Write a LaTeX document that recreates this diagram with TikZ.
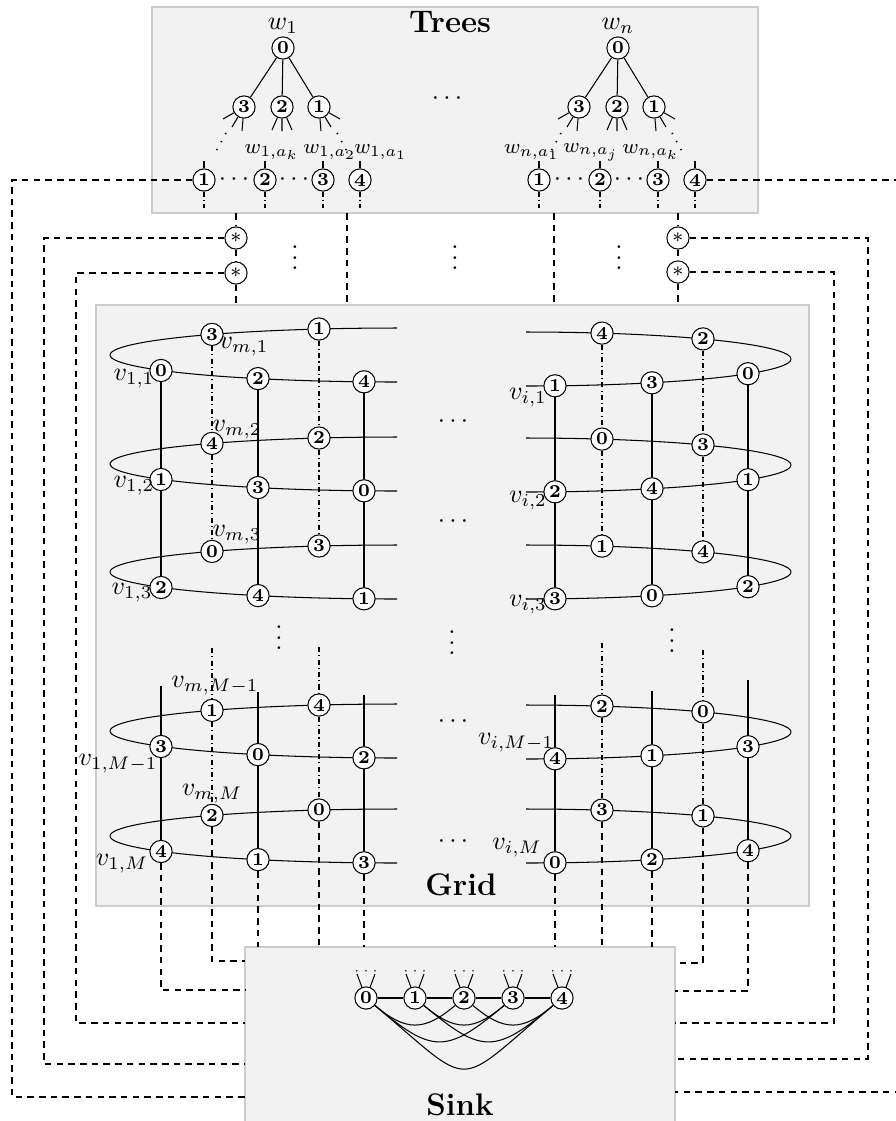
\documentclass[tikz,border=0pt]{standalone}
\usetikzlibrary{positioning}

\begin{document}
\begin{tikzpicture}[
    x=0.0135cm, y=-0.0135cm,
    every node/.style={inner sep=1pt},
    vtx/.style={circle, draw, fill=white, inner sep=0pt, minimum size=3mm,
                font=\scriptsize\bfseries},
    box/.style={draw=gray!40, fill=gray!10},
    lnk/.style={dash pattern=on 2.5pt off 2pt},
    col/.style={dash pattern=on 2pt off 1.2pt on 0.4pt off 1.2pt},
    dts/.style={dash pattern=on 0.5pt off 3pt, line width=0.6pt},
    ttl/.style={font=\fontsize{12}{14}\selectfont\bfseries},
    lbl/.style={font=\normalsize},
    sub/.style={font=\footnotesize},
  ]
  \useasboundingbox (0,0) rectangle (896,1121);
  \clip (0,0) rectangle (896,1121);

  % boxes
  \draw[box] (152,7) coordinate (treesnw) rectangle (758,213) coordinate (treesse);
  \draw[box] (96,305) coordinate (gridnw) rectangle (809,906) coordinate (gridse);
  \draw[box] (245,947) coordinate (sinknw) rectangle (675,1140) coordinate (sinkse);
  \node[ttl] (trees) at (450,22) {Trees};
  \node[ttl] (grid) at (461,885) {Grid};
  \node[ttl] (sink) at (460,1105) {Sink};

  % trees
  \foreach \tr/\r in {1/283,n/618}{
    \node[vtx] (t\tr-r) at (\r,48) {0};
    \node[vtx] (t\tr-c3) at (\r-39,107) {3};
    \node[vtx] (t\tr-c2) at (\r-1,107) {2};
    \node[vtx] (t\tr-c1) at (\r+36,107) {1};
    \foreach \c in {3,2,1} \draw (t\tr-r) -- (t\tr-c\c);
    \draw (t\tr-c3) -- ++(-21,12) (t\tr-c3) -- ++(-12,20) (t\tr-c3) -- ++(-2,24);
    \draw (t\tr-c2) -- ++(-10,23) (t\tr-c2) -- ++(0,24) (t\tr-c2) -- ++(10,23);
    \draw (t\tr-c1) -- ++(21,12) (t\tr-c1) -- ++(12,20) (t\tr-c1) -- ++(2,24);
    \draw[dts] (t\tr-c3) ++(-18,26) -- ++(-12,22);
    \draw[dts] (t\tr-c1) ++(18,26) -- ++(12,22);
    \foreach \k/\dx in {1/-79,2/-18,3/40,4/77}{
      \node[vtx] (t\tr-d\k) at (\r+\dx,180) {\k};
      \draw (t\tr-d\k) -- ++(0,-19);
      \draw[col] (t\tr-d\k) -- ++(0,28);
    }
    \node (t\tr-dl) at (\r-49,180) {$\cdots$};
    \node (t\tr-dr) at (\r+11,180) {$\cdots$};
  }
  \node[lbl, above=0pt of t1-r] (w1) {$w_1$};
  \node[lbl, above=0pt of tn-r] (wn) {$w_n$};
  \node[sub] (w1k) at (272,152) {$w_{1,a_k}$};
  \node[sub] (w12) at (330,152) {$w_{1,a_2}$};
  \node[sub] (w11) at (381,152) {$w_{1,a_1}$};
  \node[sub] (wn1) at (532,152) {$w_{n,a_1}$};
  \node[sub] (wnj) at (591,152) {$w_{n,a_j}$};
  \node[sub] (wnk) at (651,152) {$w_{n,a_k}$};
  \node (tdots) at (447,99) {$\cdots$};

  % between trees and grid
  \node[vtx, font=\footnotesize] (sl1) at (236,238) {$\ast$};
  \node[vtx, font=\footnotesize] (sl2) at (236,273) {$\ast$};
  \node[vtx, font=\footnotesize] (sr1) at (678,238) {$\ast$};
  \node[vtx, font=\footnotesize] (sr2) at (678,272) {$\ast$};
  \coordinate (gl) at (347,213);
  \coordinate (gr) at (554,213);
  \draw[lnk] (sl1 |- treesse) -- (sl1) -- (sl2) -- (sl2 |- gridnw);
  \draw[lnk] (sr1 |- treesse) -- (sr1) -- (sr2) -- (sr2 |- gridnw);
  \draw[lnk] (gl) -- (gl |- gridnw);
  \draw[lnk] (gr) -- (gr |- gridnw);
  \node (vd1) at (295,250) {$\vdots$};
  \node (vd2) at (455,250) {$\vdots$};
  \node (vd3) at (619,250) {$\vdots$};

  % grid rings
  \foreach \cy in {355,464,572,731,836}
    \draw plot[domain=90:270, samples=60] ({397+287*cos(\x)}, {\cy+27*sin(\x)});
  \foreach \cy in {359,465,572,732,836}
    \draw plot[domain=-90:90, samples=60] ({526+265*cos(\x)}, {\cy+27*sin(\x)});

  \foreach \lv/\cy/\na/\nb/\nc/\nd/\ne in
      {1/355/0/3/2/1/4, 2/464/1/4/3/2/0, 3/572/2/0/4/3/1, M1/731/3/1/0/4/2, M/836/4/2/1/0/3}{
    \node[vtx] (L\lv a) at (161,\cy+15.5) {\na};
    \node[vtx] (L\lv b) at (212,\cy-20.6) {\nb};
    \node[vtx] (L\lv c) at (258,\cy+23.6) {\nc};
    \node[vtx] (L\lv d) at (319,\cy-26) {\nd};
    \node[vtx] (L\lv e) at (364,\cy+26.8) {\ne};
  }
  \foreach \lv/\cy/\nf/\ng/\nh/\ni/\nj in
      {1/359/1/4/3/2/0, 2/465/2/0/4/3/1, 3/572/3/1/0/4/2, M1/732/4/2/1/0/3, M/836/0/3/2/1/4}{
    \node[vtx] (R\lv f) at (555,\cy+26.8) {\nf};
    \node[vtx] (R\lv g) at (602,\cy-25.9) {\ng};
    \node[vtx] (R\lv h) at (652,\cy+23.8) {\nh};
    \node[vtx] (R\lv i) at (703,\cy-20.1) {\ni};
    \node[vtx] (R\lv j) at (748,\cy+14.7) {\nj};
  }

  % columns
  \foreach \k in {a,c,e} \draw (L1\k) -- (L2\k) -- (L3\k);
  \foreach \k in {b,d} \draw[col] (L1\k) -- (L2\k) -- (L3\k);
  \foreach \k in {f,h,j} \draw (R1\k) -- (R2\k) -- (R3\k);
  \foreach \k in {g,i} \draw[col] (R1\k) -- (R2\k) -- (R3\k);
  \foreach \k/\y in {a/686,c/692,e/695}{
    \coordinate (Lt\k) at (LM1\k |- 0,\y);
    \draw (Lt\k) -- (LM1\k) -- (LM\k);
  }
  \foreach \k/\y in {b/648,d/647}{
    \coordinate (Lt\k) at (LM1\k |- 0,\y);
    \draw[col] (Lt\k) -- (LM1\k) -- (LM\k);
  }
  \foreach \k/\y in {f/695,h/691,j/680}{
    \coordinate (Rt\k) at (RM1\k |- 0,\y);
    \draw (Rt\k) -- (RM1\k) -- (RM\k);
  }
  \foreach \k/\y in {g/643,i/650}{
    \coordinate (Rt\k) at (RM1\k |- 0,\y);
    \draw[col] (Rt\k) -- (RM1\k) -- (RM\k);
  }

  % grid labels
  \node[lbl] (v11) at (134,379) {$v_{1,1}$};
  \node[lbl] (v12) at (134,486) {$v_{1,2}$};
  \node[lbl] (v13) at (132,593) {$v_{1,3}$};
  \node[lbl] (vm1) at (244,347) {$v_{m,1}$};
  \node[lbl] (vm2) at (237,430) {$v_{m,2}$};
  \node[lbl] (vm3) at (237,535) {$v_{m,3}$};
  \node[lbl] (vmM1) at (215,686) {$v_{m,M-1}$};
  \node[lbl] (v1M1) at (118,764) {$v_{1,M-1}$};
  \node[lbl] (vmM) at (212,794) {$v_{m,M}$};
  \node[lbl] (v1M) at (122,864) {$v_{1,M}$};
  \node[lbl] (vi1) at (528,398) {$v_{i,1}$};
  \node[lbl] (vi2) at (528,501) {$v_{i,2}$};
  \node[lbl] (vi3) at (528,605) {$v_{i,3}$};
  \node[lbl] (viM1) at (516,743) {$v_{i,M-1}$};
  \node[lbl] (viM) at (517,848) {$v_{i,M}$};
  \foreach \y in {422,522,722,842} \node at (453,\y) {$\cdots$};
  \node (vd4) at (279,630) {$\vdots$};
  \node (vd5) at (452,635) {$\vdots$};
  \node (vd6) at (672,633) {$\vdots$};

  % sink
  \foreach \k/\x in {0/366,1/415,2/464,3/513,4/562}{
    \node[vtx] (s\k) at (\x,998) {\k};
    \draw (s\k) -- ++(-9,-24) (s\k) -- ++(9,-24);
    \node[font=\tiny] (sd\k) at (\x,971) {$\cdots$};
  }
  \draw (s0) -- (s1) -- (s2) -- (s3) -- (s4);
  \draw (s0) to[bend right=40, looseness=1.3] (s2);
  \draw (s1) to[bend right=40, looseness=1.3] (s3);
  \draw (s2) to[bend right=40, looseness=1.3] (s4);
  \draw (s0) to[bend right=40, looseness=1.5] (s3);
  \draw (s1) to[bend right=40, looseness=1.5] (s4);
  \draw (s0) to[bend right=40, looseness=1.9] (s4);

  % links down to the sink
  \draw[lnk] (LMa) |- (sinknw |- 0,990);
  \draw[lnk] (LMb) |- (sinknw |- 0,961);
  \foreach \k in {c,d,e} \draw[lnk] (LM\k) -- (LM\k |- sinknw);
  \foreach \k in {f,g,h} \draw[lnk] (RM\k) -- (RM\k |- sinknw);
  \draw[lnk] (RMi) |- (sinkse |- 0,963);
  \draw[lnk] (RMj) |- (sinkse |- 0,991);
  \draw[lnk] (t1-d1) -- (12,180) -- (12,1097) -- (sinknw |- 0,1097);
  \draw[lnk] (sl1) -- (44,238) -- (44,1064) -- (sinknw |- 0,1064);
  \draw[lnk] (sl2) -- (76,273) -- (76,1023) -- (sinknw |- 0,1023);
  \draw[lnk] (tn-d4) -- (910,180) -- (910,1092) -- (sinkse |- 0,1092);
  \draw[lnk] (sr1) -- (868,238) -- (868,1059) -- (sinkse |- 0,1059);
  \draw[lnk] (sr2) -- (834,272) -- (834,1023) -- (sinkse |- 0,1023);
\end{tikzpicture}
\end{document}
